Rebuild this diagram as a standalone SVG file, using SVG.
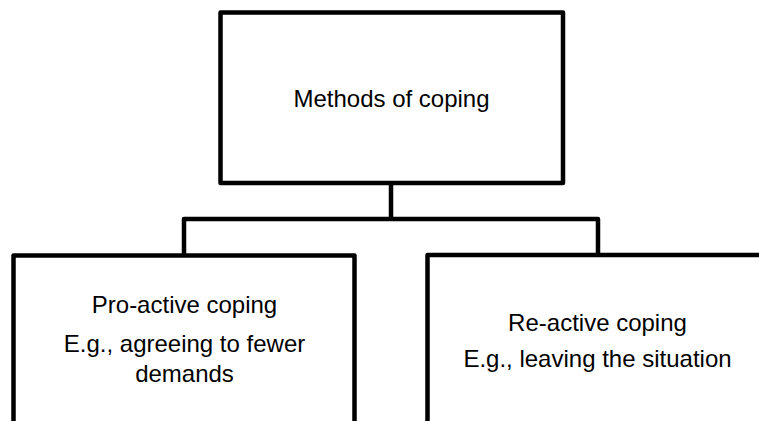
<svg xmlns="http://www.w3.org/2000/svg" width="759" height="421" viewBox="0 0 759 421">
<style>
.box{fill:#fff;stroke:#000;stroke-width:4.5;stroke-linejoin:round}
.con{fill:none;stroke:#000;stroke-width:4.5;stroke-linejoin:round}
text{font-family:"Liberation Sans",Arial,sans-serif;font-size:24px;fill:#000;text-anchor:middle}
</style>
<rect width="759" height="421" fill="#fff"/>
<g id="connectors">
<path class="con" d="M391,183 V219"/>
<path class="con" d="M184,256 V219 H598 V255"/>
</g>
<g id="methods">
<rect class="box" x="220.5" y="12.5" width="342.5" height="170.5"/>
<text x="391.5" y="107">Methods of coping</text>
</g>
<g id="proactive">
<rect class="box" x="13.5" y="255.5" width="341" height="200"/>
<text x="184.5" y="313">Pro-active coping</text>
<text x="184.5" y="352">E.g., agreeing to fewer</text>
<text x="184.5" y="382">demands</text>
</g>
<g id="reactive">
<rect class="box" x="427.5" y="255" width="341" height="200"/>
<text x="597.5" y="331">Re-active coping</text>
<text x="597.5" y="367">E.g., leaving the situation</text>
</g>
</svg>
